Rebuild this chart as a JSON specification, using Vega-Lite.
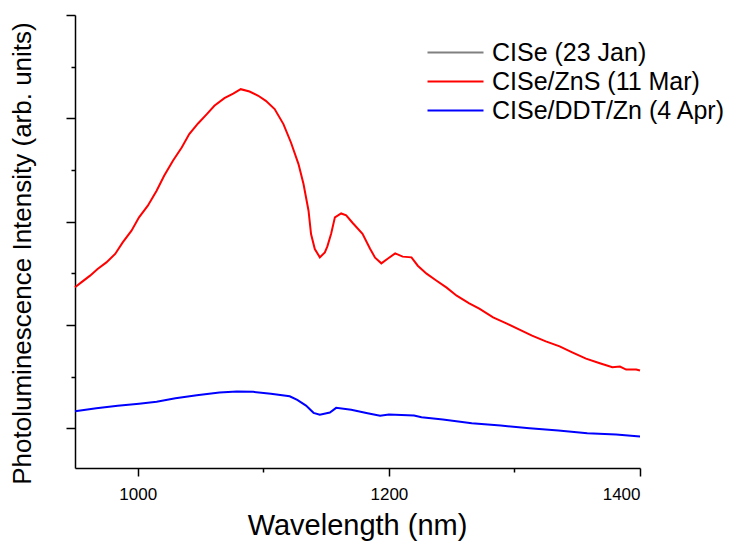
{
  "$schema": "https://vega.github.io/schema/vega-lite/v6.json",
  "width": 565,
  "height": 453,
  "autosize": {"type": "none"},
  "padding": {"left": 75, "top": 15, "right": 89, "bottom": 76},
  "background": "white",
  "config": {
    "view": {"stroke": null},
    "font": "Liberation Sans",
    "axis": {"grid": false, "domainColor": "black", "tickColor": "black", "domainWidth": 1.5, "tickWidth": 1.5, "labelColor": "black", "titleColor": "black", "titleFontWeight": "normal", "labelFont": "Liberation Sans", "titleFont": "Liberation Sans"}
  },
  "data": {"values": [
    {"series": "CISe/ZnS (11 Mar)", "wl": 950, "pl": 1364},
    {"series": "CISe/ZnS (11 Mar)", "wl": 955, "pl": 1412},
    {"series": "CISe/ZnS (11 Mar)", "wl": 962, "pl": 1477},
    {"series": "CISe/ZnS (11 Mar)", "wl": 968, "pl": 1542},
    {"series": "CISe/ZnS (11 Mar)", "wl": 975, "pl": 1605},
    {"series": "CISe/ZnS (11 Mar)", "wl": 982, "pl": 1687},
    {"series": "CISe/ZnS (11 Mar)", "wl": 988, "pl": 1799},
    {"series": "CISe/ZnS (11 Mar)", "wl": 995, "pl": 1912},
    {"series": "CISe/ZnS (11 Mar)", "wl": 1001, "pl": 2041},
    {"series": "CISe/ZnS (11 Mar)", "wl": 1008, "pl": 2154},
    {"series": "CISe/ZnS (11 Mar)", "wl": 1015, "pl": 2299},
    {"series": "CISe/ZnS (11 Mar)", "wl": 1021, "pl": 2444},
    {"series": "CISe/ZnS (11 Mar)", "wl": 1028, "pl": 2589},
    {"series": "CISe/ZnS (11 Mar)", "wl": 1035, "pl": 2718},
    {"series": "CISe/ZnS (11 Mar)", "wl": 1041, "pl": 2847},
    {"series": "CISe/ZnS (11 Mar)", "wl": 1048, "pl": 2950},
    {"series": "CISe/ZnS (11 Mar)", "wl": 1055, "pl": 3041},
    {"series": "CISe/ZnS (11 Mar)", "wl": 1061, "pl": 3121},
    {"series": "CISe/ZnS (11 Mar)", "wl": 1069, "pl": 3195},
    {"series": "CISe/ZnS (11 Mar)", "wl": 1076, "pl": 3240},
    {"series": "CISe/ZnS (11 Mar)", "wl": 1082, "pl": 3282},
    {"series": "CISe/ZnS (11 Mar)", "wl": 1089, "pl": 3259},
    {"series": "CISe/ZnS (11 Mar)", "wl": 1096, "pl": 3218},
    {"series": "CISe/ZnS (11 Mar)", "wl": 1102, "pl": 3169},
    {"series": "CISe/ZnS (11 Mar)", "wl": 1109, "pl": 3089},
    {"series": "CISe/ZnS (11 Mar)", "wl": 1116, "pl": 2944},
    {"series": "CISe/ZnS (11 Mar)", "wl": 1122, "pl": 2766},
    {"series": "CISe/ZnS (11 Mar)", "wl": 1128, "pl": 2557},
    {"series": "CISe/ZnS (11 Mar)", "wl": 1132, "pl": 2364},
    {"series": "CISe/ZnS (11 Mar)", "wl": 1136, "pl": 2105},
    {"series": "CISe/ZnS (11 Mar)", "wl": 1138, "pl": 1880},
    {"series": "CISe/ZnS (11 Mar)", "wl": 1141, "pl": 1735},
    {"series": "CISe/ZnS (11 Mar)", "wl": 1145, "pl": 1654},
    {"series": "CISe/ZnS (11 Mar)", "wl": 1149, "pl": 1702},
    {"series": "CISe/ZnS (11 Mar)", "wl": 1151, "pl": 1760},
    {"series": "CISe/ZnS (11 Mar)", "wl": 1154, "pl": 1883},
    {"series": "CISe/ZnS (11 Mar)", "wl": 1157, "pl": 2041},
    {"series": "CISe/ZnS (11 Mar)", "wl": 1162, "pl": 2079},
    {"series": "CISe/ZnS (11 Mar)", "wl": 1166, "pl": 2060},
    {"series": "CISe/ZnS (11 Mar)", "wl": 1171, "pl": 1989},
    {"series": "CISe/ZnS (11 Mar)", "wl": 1179, "pl": 1883},
    {"series": "CISe/ZnS (11 Mar)", "wl": 1185, "pl": 1738},
    {"series": "CISe/ZnS (11 Mar)", "wl": 1189, "pl": 1651},
    {"series": "CISe/ZnS (11 Mar)", "wl": 1194, "pl": 1596},
    {"series": "CISe/ZnS (11 Mar)", "wl": 1199, "pl": 1641},
    {"series": "CISe/ZnS (11 Mar)", "wl": 1205, "pl": 1692},
    {"series": "CISe/ZnS (11 Mar)", "wl": 1211, "pl": 1661},
    {"series": "CISe/ZnS (11 Mar)", "wl": 1218, "pl": 1654},
    {"series": "CISe/ZnS (11 Mar)", "wl": 1223, "pl": 1573},
    {"series": "CISe/ZnS (11 Mar)", "wl": 1230, "pl": 1496},
    {"series": "CISe/ZnS (11 Mar)", "wl": 1238, "pl": 1428},
    {"series": "CISe/ZnS (11 Mar)", "wl": 1246, "pl": 1361},
    {"series": "CISe/ZnS (11 Mar)", "wl": 1254, "pl": 1283},
    {"series": "CISe/ZnS (11 Mar)", "wl": 1264, "pl": 1209},
    {"series": "CISe/ZnS (11 Mar)", "wl": 1272, "pl": 1158},
    {"series": "CISe/ZnS (11 Mar)", "wl": 1283, "pl": 1073},
    {"series": "CISe/ZnS (11 Mar)", "wl": 1294, "pl": 1013},
    {"series": "CISe/ZnS (11 Mar)", "wl": 1304, "pl": 955},
    {"series": "CISe/ZnS (11 Mar)", "wl": 1314, "pl": 896},
    {"series": "CISe/ZnS (11 Mar)", "wl": 1325, "pl": 841},
    {"series": "CISe/ZnS (11 Mar)", "wl": 1336, "pl": 793},
    {"series": "CISe/ZnS (11 Mar)", "wl": 1346, "pl": 735},
    {"series": "CISe/ZnS (11 Mar)", "wl": 1357, "pl": 674},
    {"series": "CISe/ZnS (11 Mar)", "wl": 1368, "pl": 629},
    {"series": "CISe/ZnS (11 Mar)", "wl": 1378, "pl": 590},
    {"series": "CISe/ZnS (11 Mar)", "wl": 1384, "pl": 597},
    {"series": "CISe/ZnS (11 Mar)", "wl": 1389, "pl": 568},
    {"series": "CISe/ZnS (11 Mar)", "wl": 1397, "pl": 568},
    {"series": "CISe/ZnS (11 Mar)", "wl": 1400, "pl": 558},
    {"series": "CISe/DDT/Zn (4 Apr)", "wl": 950, "pl": 164},
    {"series": "CISe/DDT/Zn (4 Apr)", "wl": 967, "pl": 194},
    {"series": "CISe/DDT/Zn (4 Apr)", "wl": 984, "pl": 217},
    {"series": "CISe/DDT/Zn (4 Apr)", "wl": 1001, "pl": 238},
    {"series": "CISe/DDT/Zn (4 Apr)", "wl": 1015, "pl": 256},
    {"series": "CISe/DDT/Zn (4 Apr)", "wl": 1030, "pl": 290},
    {"series": "CISe/DDT/Zn (4 Apr)", "wl": 1047, "pl": 319},
    {"series": "CISe/DDT/Zn (4 Apr)", "wl": 1065, "pl": 345},
    {"series": "CISe/DDT/Zn (4 Apr)", "wl": 1079, "pl": 355},
    {"series": "CISe/DDT/Zn (4 Apr)", "wl": 1092, "pl": 352},
    {"series": "CISe/DDT/Zn (4 Apr)", "wl": 1106, "pl": 333},
    {"series": "CISe/DDT/Zn (4 Apr)", "wl": 1121, "pl": 309},
    {"series": "CISe/DDT/Zn (4 Apr)", "wl": 1127, "pl": 274},
    {"series": "CISe/DDT/Zn (4 Apr)", "wl": 1134, "pl": 219},
    {"series": "CISe/DDT/Zn (4 Apr)", "wl": 1140, "pl": 149},
    {"series": "CISe/DDT/Zn (4 Apr)", "wl": 1145, "pl": 130},
    {"series": "CISe/DDT/Zn (4 Apr)", "wl": 1153, "pl": 152},
    {"series": "CISe/DDT/Zn (4 Apr)", "wl": 1158, "pl": 197},
    {"series": "CISe/DDT/Zn (4 Apr)", "wl": 1170, "pl": 178},
    {"series": "CISe/DDT/Zn (4 Apr)", "wl": 1183, "pl": 145},
    {"series": "CISe/DDT/Zn (4 Apr)", "wl": 1193, "pl": 120},
    {"series": "CISe/DDT/Zn (4 Apr)", "wl": 1200, "pl": 132},
    {"series": "CISe/DDT/Zn (4 Apr)", "wl": 1220, "pl": 123},
    {"series": "CISe/DDT/Zn (4 Apr)", "wl": 1226, "pl": 106},
    {"series": "CISe/DDT/Zn (4 Apr)", "wl": 1243, "pl": 84},
    {"series": "CISe/DDT/Zn (4 Apr)", "wl": 1266, "pl": 48},
    {"series": "CISe/DDT/Zn (4 Apr)", "wl": 1289, "pl": 26},
    {"series": "CISe/DDT/Zn (4 Apr)", "wl": 1312, "pl": 0},
    {"series": "CISe/DDT/Zn (4 Apr)", "wl": 1335, "pl": -22},
    {"series": "CISe/DDT/Zn (4 Apr)", "wl": 1358, "pl": -48},
    {"series": "CISe/DDT/Zn (4 Apr)", "wl": 1381, "pl": -61},
    {"series": "CISe/DDT/Zn (4 Apr)", "wl": 1400, "pl": -80}
  ]},
  "mark": {"type": "line", "strokeWidth": 2, "interpolate": "linear"},
  "encoding": {
    "x": {
      "field": "wl", "type": "quantitative",
      "scale": {"domain": [950, 1400], "nice": false, "zero": false},
      "axis": {
        "title": "Wavelength (nm)",
        "values": [1000, 1100, 1200, 1300, 1400],
        "format": "d",
        "labelExpr": "datum.value % 200 === 0 ? datum.label : ''",
        "tickSize": {"condition": {"test": "datum.value % 200 === 0", "value": 8}, "value": 4},
        "labelFontSize": 17,
        "labelBaseline": "alphabetic",
        "labelPadding": 23,
        "titleFontSize": 29,
        "titleBaseline": "alphabetic",
        "titleY": 66,
        "titleX": 282,
        "titleAnchor": "middle"
      }
    },
    "y": {
      "field": "pl", "type": "quantitative",
      "scale": {"domain": [-385, 4000], "nice": false, "zero": false},
      "axis": {
        "title": "Photoluminescence Intensity (arb. units)",
        "values": [0, 500, 1000, 1500, 2000, 2500, 3000, 3500, 4000],
        "labels": false,
        "tickSize": {"condition": {"test": "datum.value % 1000 === 0", "value": 9}, "value": 4},
        "titleFontSize": 26,
        "titleBaseline": "alphabetic",
        "titleAngle": -90,
        "titleX": -45,
        "titleY": 238,
        "titleAlign": "center"
      }
    },
    "color": {
      "field": "series", "type": "nominal",
      "scale": {"domain": ["CISe (23 Jan)", "CISe/ZnS (11 Mar)", "CISe/DDT/Zn (4 Apr)"], "range": ["#808080", "#ff0000", "#0000ff"]},
      "legend": {
        "title": null,
        "orient": "none",
        "legendX": 368,
        "legendY": 25,
        "symbolType": "M-4,0H4",
        "symbolSize": 196,
        "symbolStrokeWidth": 2,
        "labelFontSize": 25,
        "labelFont": "Liberation Sans",
        "labelColor": "black",
        "labelLimit": 0,
        "labelOffset": 24,
        "rowPadding": 3,
        "padding": 0
      }
    }
  }
}
